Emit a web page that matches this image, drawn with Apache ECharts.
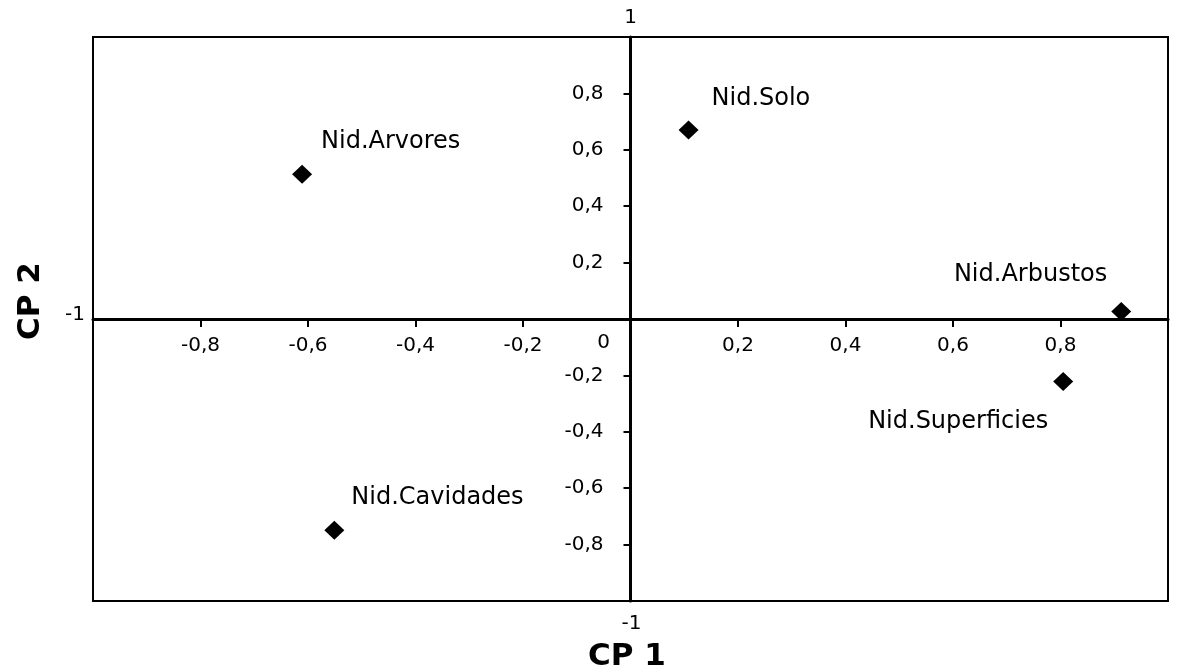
<!DOCTYPE html>
<html>
<head>
<meta charset="utf-8">
<script src="https://cdn.jsdelivr.net/npm/echarts@6/dist/echarts.min.js"></script>
<style>
html,body{margin:0;padding:0;background:#fff;}
#chart{width:1179px;height:672px;}
</style>
</head>
<body>
<div id="chart"></div>
<script>
// Data
var pointNames = ['Nid.Arvores', 'Nid.Solo', 'Nid.Arbustos', 'Nid.Superficies', 'Nid.Cavidades'];
var cp1Values = [-0.611, 0.108, 0.913, 0.805, -0.551];
var cp2Values = [0.513, 0.670, 0.027, -0.222, -0.749];
var axisMin = -1;
var axisMax = 1;
var tickStep = 0.2;
var axisTitleX = 'CP 1';
var axisTitleY = 'CP 2';
// end-of-axis labels drawn separately
var endLabelTexts = ['1', '-1', '-1', '0'];
var endLabelX = [0, -1, 0, 0];
var endLabelY = [1, 0, -1, 0];

var FONT = 'DejaVu Sans';
var GRID = {left: 93, right: 11, top: 37, bottom: 71};
var W = 1179, H = 672;
var gridW = W - GRID.left - GRID.right;
var gridH = H - GRID.top - GRID.bottom;

var labelLayout = [
  {align: 'left', offset: [19, -33]},
  {align: 'left', offset: [23, -31]},
  {align: 'right', offset: [-14, -37]},
  {align: 'right', offset: [-15, 40]},
  {align: 'left', offset: [17, -32]}
];
var endLabelOffset = [[0, -19], [-18, -4], [1, 23], [-27, 24]];

function fmt(v) {
  var r = Math.round(v * 10) / 10;
  if (Math.abs(r) < 1e-9 || Math.abs(Math.abs(r) - 1) < 1e-9) return '';
  return String(r).replace('.', ',');
}

var points = pointNames.map(function (n, i) {
  return {
    name: n,
    value: [cp1Values[i], cp2Values[i]],
    label: {
      show: true,
      formatter: '{b}',
      position: 'inside',
      align: labelLayout[i].align,
      verticalAlign: 'middle',
      offset: labelLayout[i].offset,
      color: '#000',
      fontFamily: FONT,
      fontSize: 24,
      textBorderWidth: 0
    }
  };
});

var titleGraphics = [
  {type: 'text', x: 627, y: 657,
   style: {text: axisTitleX, fill: '#000', font: 'bold 31px "DejaVu Sans"', align: 'center', verticalAlign: 'middle'}},
  {type: 'text', x: 31, y: 301, rotation: Math.PI / 2,
   style: {text: axisTitleY, fill: '#000', font: 'bold 31px "DejaVu Sans"', align: 'center', verticalAlign: 'middle'}}
];

var chart = echarts.init(document.getElementById('chart'));
chart.setOption({
  backgroundColor: '#fff',
  animation: false,
  grid: {
    left: GRID.left, right: GRID.right, top: GRID.top, bottom: GRID.bottom,
    show: true, borderColor: '#000', borderWidth: 2, backgroundColor: 'transparent'
  },
  xAxis: {
    type: 'value', min: axisMin, max: axisMax, interval: tickStep,
    position: 'bottom',
    offset: -gridH / 2,
    axisLine: {onZero: false, lineStyle: {color: '#000', width: 3}},
    axisTick: {show: true, length: 8, lineStyle: {color: '#000', width: 2}},
    axisLabel: {formatter: fmt, color: '#000', fontFamily: FONT, fontSize: 20, margin: 17},
    splitLine: {show: false}
  },
  yAxis: {
    type: 'value', min: axisMin, max: axisMax, interval: tickStep,
    position: 'left',
    offset: -gridW / 2,
    axisLine: {onZero: false, lineStyle: {color: '#000', width: 3}},
    axisTick: {show: true, length: 7, lineStyle: {color: '#000', width: 2}},
    axisLabel: {formatter: fmt, color: '#000', fontFamily: FONT, fontSize: 20, margin: 27},
    splitLine: {show: false}
  },
  graphic: titleGraphics,
  series: [
    {
      type: 'scatter',
      symbol: 'diamond',
      symbolSize: [20, 19],
      itemStyle: {color: '#000', opacity: 1},
      data: points,
      z: 5
    }
  ]
});

// End-of-axis labels positioned through the chart's own scales
var endGraphics = endLabelTexts.map(function (t, i) {
  var p = chart.convertToPixel({gridIndex: 0}, [endLabelX[i], endLabelY[i]]);
  return {
    type: 'text',
    x: p[0] + endLabelOffset[i][0],
    y: p[1] + endLabelOffset[i][1],
    style: {text: t, fill: '#000', font: '20px "DejaVu Sans"', align: 'center', verticalAlign: 'middle'}
  };
});
chart.setOption({graphic: titleGraphics.concat(endGraphics)});
</script>
</body>
</html>
